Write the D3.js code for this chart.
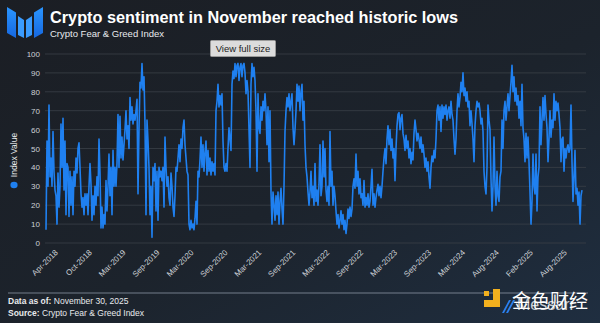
<!DOCTYPE html>
<html><head><meta charset="utf-8">
<script src="https://cdn.jsdelivr.net/npm/d3@7"></script>
<style>html,body{margin:0;padding:0;background:#1c2128;overflow:hidden}</style>
</head><body><svg id="c" width="600" height="323"></svg>
<script>
const title = "Crypto sentiment in November reached historic lows";
const subtitle = "Crypto Fear & Greed Index";
const seriesName = "Index Value";
const startDate = "2018-02-01";
const endDate = "2025-11-30";
const values = [
7,54,30,73,35,45,30,59,38,28,
25,10,37,19,30,63,40,66,28,54,
15,42,40,14,38,20,35,15,38,30,
45,37,50,53,40,26,19,24,15,26,
20,26,15,30,42,31,12,25,15,30,
20,35,25,55,37,8,19,8,15,10,
33,17,30,47,25,40,15,49,30,40,
30,42,68,40,67,45,56,44,52,60,
70,55,62,50,77,65,72,63,68,65,
70,76,26,60,85,82,95,81,88,63,
15,65,54,40,15,30,3,40,33,42,
17,38,12,40,35,38,33,40,19,56,
40,30,35,24,20,37,30,19,14,25,
40,38,45,52,43,55,50,61,65,52,
45,38,36,10,7,12,8,10,7,13,
22,10,38,35,44,56,40,52,38,48,
54,36,49,38,45,36,43,38,42,36,
70,75,84,72,78,73,79,54,40,38,
42,38,50,61,55,49,84,91,87,95,
88,94,95,86,93,95,88,94,95,90,
79,86,80,60,40,84,95,88,93,86,
70,38,79,61,58,72,65,75,70,79,
70,52,72,43,70,27,10,27,20,12,
25,15,27,10,22,29,18,10,30,59,
70,77,72,79,70,75,79,61,52,60,
70,84,75,83,70,80,84,65,75,52,
40,35,27,20,27,38,24,30,20,42,
22,28,20,31,52,25,30,54,35,50,
28,22,30,20,59,30,38,20,30,25,
17,10,15,8,12,17,10,15,7,12,
5,10,18,13,19,14,18,30,34,29,
47,30,38,26,34,24,26,20,33,19,
24,20,26,19,22,30,39,20,26,19,
24,28,31,25,30,24,30,38,45,50,
42,55,62,52,60,49,55,45,50,33,
50,62,68,69,60,66,68,58,55,49,
57,50,54,45,50,42,48,44,58,65,
60,54,58,55,50,56,48,52,47,40,
45,38,43,35,29,40,46,43,49,45,
55,70,73,65,72,59,73,66,72,68,
73,65,70,72,66,75,68,65,55,47,
55,70,79,72,77,85,80,90,78,82,
75,80,72,75,62,70,63,55,43,62,
70,75,72,74,70,63,66,59,38,30,
26,40,73,65,60,34,17,30,56,30,
20,38,25,22,35,38,65,50,70,75,
65,72,79,70,78,85,94,80,88,75,
82,73,78,66,75,62,84,61,55,43,
58,45,56,43,27,10,22,47,30,26,
47,17,35,40,72,52,65,77,65,78,
68,61,43,55,70,56,65,61,79,65,
75,70,74,68,61,43,55,56,38,50,
45,50,52,48,50,73,43,22,35,49,
26,29,20,27,10,25,28
];
const yTicks = [0,10,20,30,40,50,60,70,80,90,100];
const tickLabels = ["Apr-2018","Oct-2018","Mar-2019","Sep-2019","Mar-2020","Sep-2020","Mar-2021","Sep-2021","Mar-2022","Sep-2022","Mar-2023","Sep-2023","Mar-2024","Aug-2024","Feb-2025","Aug-2025"];
const firstTickDate = "2018-04-08";
const tickStepDays = 181;
const noteLabel = "Data as of:";
const noteText = " November 30, 2025";
const sourceLabel = "Source:";
const sourceText = " Crypto Fear & Greed Index";

const svg = d3.select("#c");
const W = 600, H = 323;
const parse = d3.utcParse("%Y-%m-%d");
const t0 = parse(startDate), t1 = parse(endDate);
const n = values.length;
const data = values.map((v, i) => ({date: new Date(+t0 + (t1 - t0) * i / (n - 1)), value: v}));

const defs = svg.append("defs");
const bg = defs.append("linearGradient").attr("id","bg").attr("x1","0").attr("y1","0").attr("x2","1").attr("y2","1");
bg.append("stop").attr("offset","0").attr("stop-color","#1b1e24");
bg.append("stop").attr("offset","0.55").attr("stop-color","#1c232c");
bg.append("stop").attr("offset","1").attr("stop-color","#1f2e40");
svg.append("rect").attr("width",W).attr("height",H).attr("fill","url(#bg)");

const x = d3.scaleUtc().domain([t0, t1]).range([46, 582]);
const y = d3.scaleLinear().domain([0, 100]).range([243, 54]);

// gridlines
svg.append("g").selectAll("line").data(yTicks).join("line")
  .attr("x1", 45).attr("x2", 586)
  .attr("y1", d => y(d)).attr("y2", d => y(d))
  .attr("stroke", "#3a4048").attr("stroke-width", 0.8);

// y labels
svg.append("g").selectAll("text").data(yTicks).join("text")
  .attr("x", 40).attr("y", d => y(d) + 3)
  .attr("text-anchor", "end")
  .attr("font-family", "Liberation Sans, Arial, sans-serif")
  .attr("font-size", 8).attr("fill", "#cdd1d6")
  .text(d => d);

// line
const line = d3.line().x(d => x(d.date)).y(d => y(d.value)).curve(d3.curveLinear);
svg.append("path").datum(data).attr("d", line)
  .attr("fill", "none").attr("stroke", "#1f80f0").attr("stroke-width", 1.6)
  .attr("stroke-linejoin", "round");

// x tick labels
const tickDates = tickLabels.map((l, i) => d3.utcDay.offset(parse(firstTickDate), i * tickStepDays));
svg.append("g").selectAll("text").data(tickLabels).join("text")
  .attr("transform", (d, i) => `translate(${x(tickDates[i])},${253}) rotate(-45)`)
  .attr("text-anchor", "end")
  .attr("font-family", "Liberation Sans, Arial, sans-serif")
  .attr("font-size", 8).attr("fill", "#cdd1d6")
  .text(d => d);

// legend (rotated)
svg.append("ellipse").attr("cx", 14).attr("cy", 185).attr("rx", 3.6).attr("ry", 3.3).attr("fill", "#1f80f0");
svg.append("text").attr("transform", "translate(17,155) rotate(-90)")
  .attr("text-anchor", "middle")
  .attr("font-family", "Liberation Sans, Arial, sans-serif")
  .attr("font-size", 8.5).attr("fill", "#e8eaed").text(seriesName);

// logo
const logo = svg.append("g");
const lg = defs.append("linearGradient").attr("id","lg").attr("x1","0").attr("y1","0").attr("x2","0").attr("y2","1");
lg.append("stop").attr("offset","0").attr("stop-color","#2a95ff");
lg.append("stop").attr("offset","1").attr("stop-color","#1668e0");
const shapes = [
  [[7,7],[16,12.5],[16,38],[7,33]],
  [[18,16],[24,20],[24,38],[18,35]],
  [[26,20],[32,16],[32,35],[26,38]],
  [[34,12.5],[43,7],[43,33],[34,38]]
];
logo.selectAll("path").data(shapes).join("path")
  .attr("d", d => "M" + d.join("L") + "Z")
  .attr("fill", (d,i) => (i === 0 || i === 3) ? "url(#lg)" : "#3a9cff");

// title
svg.append("text").attr("x", 50).attr("y", 23)
  .attr("font-family", "Liberation Sans, Arial, sans-serif").attr("font-weight", 700)
  .attr("font-size", 16.3).attr("fill", "#ffffff").text(title);
svg.append("text").attr("x", 50).attr("y", 37)
  .attr("font-family", "Liberation Sans, Arial, sans-serif")
  .attr("font-size", 9.5).attr("fill", "#e8eaed").text(subtitle);

// "View full size" button
const btn = svg.append("g");
btn.append("rect").attr("x", 210.5).attr("y", 40.5).attr("width", 65).attr("height", 16)
  .attr("fill", "#dcdcdc").attr("stroke", "#9a9a9a").attr("rx", 1);
btn.append("text").attr("x", 243).attr("y", 52).attr("text-anchor", "middle")
  .attr("font-family", "Liberation Sans, Arial, sans-serif")
  .attr("font-size", 9.5).attr("fill", "#222").text("View full size");

// footer
svg.append("line").attr("x1", 8).attr("x2", 588).attr("y1", 293).attr("y2", 293)
  .attr("stroke", "#8a96a3").attr("stroke-width", 0.8);
const f1 = svg.append("text").attr("x", 8).attr("y", 304)
  .attr("font-family", "Liberation Sans, Arial, sans-serif").attr("font-size", 8.5).attr("fill", "#e8eaed");
f1.append("tspan").attr("font-weight", 700).text(noteLabel);
f1.append("tspan").text(noteText);
const f2 = svg.append("text").attr("x", 8).attr("y", 316)
  .attr("font-family", "Liberation Sans, Arial, sans-serif").attr("font-size", 8.5).attr("fill", "#e8eaed");
f2.append("tspan").attr("font-weight", 700).text(sourceLabel);
f2.append("tspan").text(sourceText);

// watermark (the reference shows both marks stacked on each other)
const wm = svg.append("g");
wm.append("rect").attr("x", 484).attr("y", 291).attr("width", 5).attr("height", 5).attr("fill", "#f2b01e");
wm.append("path").attr("d", "M493,289 L500,289 L500,307 L484,307 L484,300 L493,300 Z").attr("fill", "#f2b01e");
wm.append("path").attr("d", "M502,313 L509,300 L511,300 L504,313 Z").attr("fill", "#2a80f0");
wm.append("path").attr("d", "M506,313 L513,300 L515,300 L508,313 Z").attr("fill", "#2a80f0");
wm.append("text").attr("x", 517).attr("y", 310)
  .attr("font-family", "Liberation Sans, Arial, sans-serif").attr("font-size", 16).attr("fill", "#e8eaed")
  .attr("opacity", 0.85)
  .text("Messari");
wm.append("text").attr("x", 512).attr("y", 308)
  .attr("font-family", "Noto Sans CJK SC").attr("font-size", 19).attr("fill", "#ffffff")
  .text("金色财经");
</script></body></html>
